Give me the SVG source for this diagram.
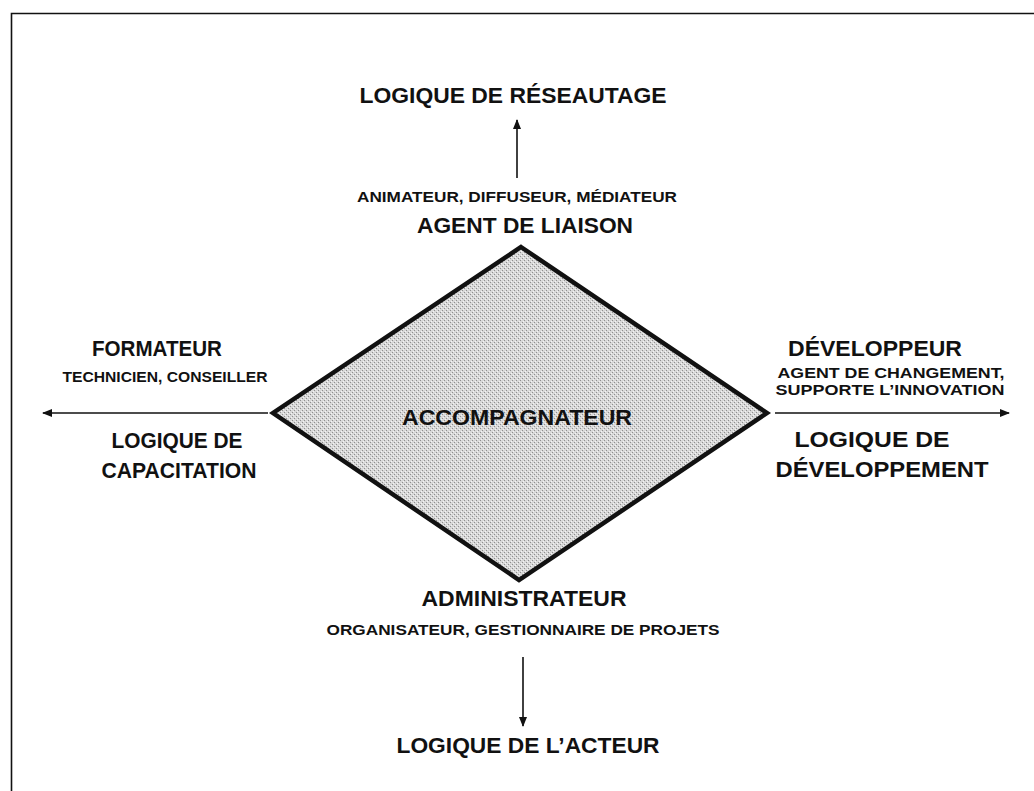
<svg xmlns="http://www.w3.org/2000/svg" width="1034" height="791" viewBox="0 0 1034 791">
  <defs>
    <style>
      text { font-family: "Liberation Sans", Arial, sans-serif; font-weight: bold; fill: #111; text-anchor: middle; }
      .big { font-size: 22.5px; }
      .small { font-size: 15.5px; }
      .axis { stroke: #111; stroke-width: 1.6; fill: none; marker-end: url(#arrow); }
    </style>
    <marker id="arrow" viewBox="0 0 10 10" refX="9" refY="5" markerWidth="11" markerHeight="10" orient="auto" markerUnits="userSpaceOnUse">
      <path d="M0,1 L10,5 L0,9 Z" fill="#111"/>
    </marker>
    <!-- halftone grain for the central diamond -->
    <pattern id="halftone" width="4" height="4" patternUnits="userSpaceOnUse">
      <rect width="4" height="4" fill="#d8d8d8"/>
      <rect x="0" y="0" width="1" height="1" fill="#8f8f8f"/>
      <rect x="2" y="2" width="1" height="1" fill="#8f8f8f"/>
      <rect x="1" y="3" width="1" height="1" fill="#f4f4f4"/>
      <rect x="3" y="1" width="1" height="1" fill="#f4f4f4"/>
    </pattern>
  </defs>

  <rect width="1034" height="791" fill="#fff"/>

  <!-- frame -->
  <path d="M11.5,791 L11.5,13.5 L1034,13.5" fill="none" stroke="#111" stroke-width="1.6"/>

  <!-- connectors -->
  <g id="connectors">
    <line class="axis" x1="517" y1="178" x2="517" y2="120"/>
    <line class="axis" x1="268" y1="413" x2="43" y2="413"/>
    <line class="axis" x1="775" y1="413" x2="1009" y2="413"/>
    <line class="axis" x1="523" y1="657" x2="523" y2="726"/>
  </g>

  <!-- central node -->
  <g id="accompagnateur">
    <polygon points="521,247 767,413 519,580 273,413" fill="url(#halftone)" stroke="#111" stroke-width="4.5" stroke-linejoin="miter"/>
    <text class="big" x="517" y="425" textLength="230" lengthAdjust="spacingAndGlyphs">ACCOMPAGNATEUR</text>
  </g>

  <!-- top -->
  <g id="reseautage">
    <text class="big" x="513" y="103" textLength="307" lengthAdjust="spacingAndGlyphs">LOGIQUE DE RÉSEAUTAGE</text>
  </g>
  <g id="agent-liaison">
    <text class="small" x="517" y="202" textLength="320" lengthAdjust="spacingAndGlyphs">ANIMATEUR, DIFFUSEUR, MÉDIATEUR</text>
    <text class="big" x="525" y="233" textLength="216" lengthAdjust="spacingAndGlyphs">AGENT DE LIAISON</text>
  </g>

  <!-- left -->
  <g id="formateur">
    <text class="big" x="157" y="356" textLength="130" lengthAdjust="spacingAndGlyphs">FORMATEUR</text>
    <text class="small" x="165" y="382" textLength="205" lengthAdjust="spacingAndGlyphs">TECHNICIEN, CONSEILLER</text>
  </g>
  <g id="capacitation">
    <text class="big" x="177" y="448" textLength="131" lengthAdjust="spacingAndGlyphs">LOGIQUE DE</text>
    <text class="big" x="179" y="478" textLength="155" lengthAdjust="spacingAndGlyphs">CAPACITATION</text>
  </g>

  <!-- right -->
  <g id="developpeur">
    <text class="big" x="875" y="356" textLength="174" lengthAdjust="spacingAndGlyphs">DÉVELOPPEUR</text>
    <text class="small" x="891" y="378" textLength="227" lengthAdjust="spacingAndGlyphs">AGENT DE CHANGEMENT,</text>
    <text class="small" x="890" y="395" textLength="229" lengthAdjust="spacingAndGlyphs">SUPPORTE L’INNOVATION</text>
  </g>
  <g id="developpement">
    <text class="big" x="872" y="447" textLength="155" lengthAdjust="spacingAndGlyphs">LOGIQUE DE</text>
    <text class="big" x="882" y="477" textLength="213" lengthAdjust="spacingAndGlyphs">DÉVELOPPEMENT</text>
  </g>

  <!-- bottom -->
  <g id="administrateur">
    <text class="big" x="524" y="606" textLength="205" lengthAdjust="spacingAndGlyphs">ADMINISTRATEUR</text>
    <text class="small" x="523" y="635" textLength="393" lengthAdjust="spacingAndGlyphs">ORGANISATEUR, GESTIONNAIRE DE PROJETS</text>
  </g>
  <g id="acteur">
    <text class="big" x="528" y="753" textLength="263" lengthAdjust="spacingAndGlyphs">LOGIQUE DE L’ACTEUR</text>
  </g>
</svg>
